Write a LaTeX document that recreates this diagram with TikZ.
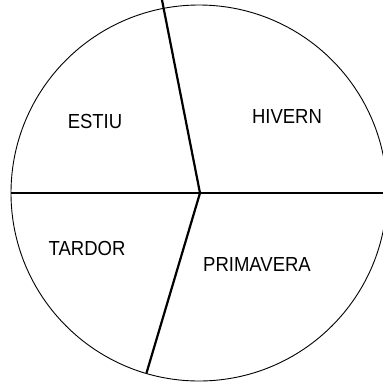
\documentclass[tikz,border=0pt]{standalone}
\usepackage{fontspec}
\setmainfont{Liberation Sans}
\begin{document}
\begin{tikzpicture}[x=1pt,y=-1pt,
  rim/.style={draw=black,line width=0.9pt},
  divider/.style={draw=black,line width=2.2pt},
  season/.style={font=\fontsize{18.5}{21}\selectfont,inner sep=0pt,yscale=1.1}]
\useasboundingbox (0,0) rectangle (383,384);
\coordinate (O) at (200,193);
\draw[rim] (O) ++(-1,0) circle[radius=188];
\coordinate (top) at (162,0);
\coordinate (left) at (11,193);
\coordinate (right) at (383,193);
\coordinate (bottom) at (146.5,373);
\draw[divider] (top) -- (O);
\draw[divider] (left) -- (right);
\draw[divider] (O) -- (bottom);
\node[season] (estiu) at (95,121) {ESTIU};
\node[season] (hivern) at (287,116) {HIVERN};
\node[season] (tardor) at (87,248) {TARDOR};
\node[season] (primavera) at (257,264) {PRIMAVERA};
\end{tikzpicture}
\end{document}
